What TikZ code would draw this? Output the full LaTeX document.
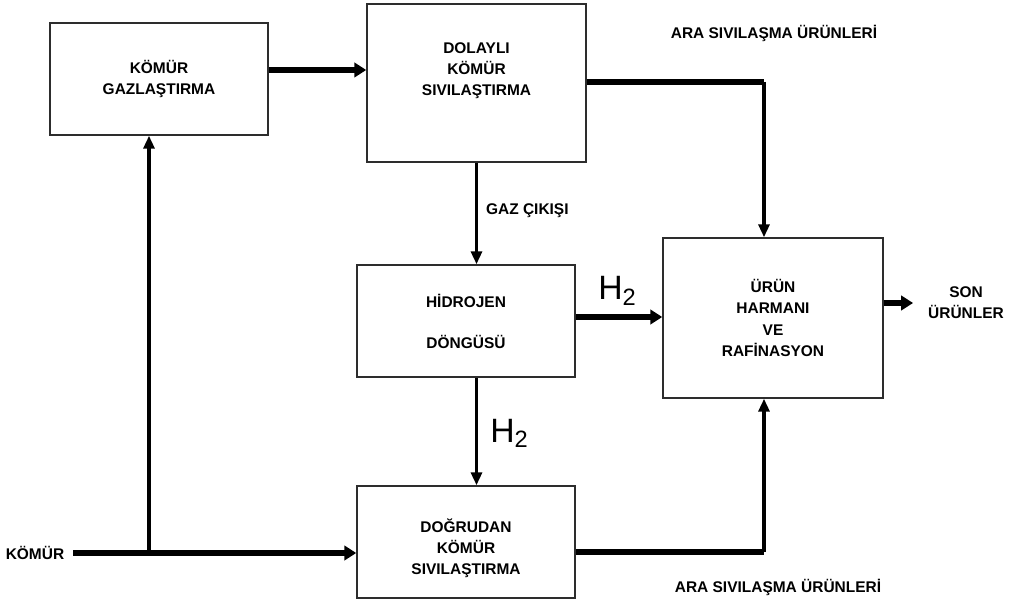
\documentclass[tikz,border=0pt]{standalone}
\usepackage{fontspec}
\setmainfont{Liberation Sans}
\usetikzlibrary{positioning,arrows.meta}
\definecolor{boxcol}{RGB}{45,45,45}

\begin{document}
\begin{tikzpicture}[x=0.025cm, y=-0.025cm,
  nd/.style={rectangle, draw=boxcol, line width=1pt, minimum width=5.45cm, minimum height=2.8cm,
             font=\fontsize{11}{15}\selectfont\bfseries, align=center, inner sep=0pt},
  lbl/.style={font=\fontsize{11}{15}\selectfont\bfseries, align=center, inner sep=2pt},
  hlbl/.style={font=\fontsize{24}{24}\selectfont, anchor=base west, inner sep=0pt},
  ar/.style={-{Triangle[length=0.3cm, width=0.36cm]}, line width=0.15cm},
  ln/.style={line width=0.15cm},
  tar/.style={-{Triangle[length=0.32cm, width=0.27cm]}, line width=0.09cm}
]
\useasboundingbox (0,0) rectangle (1012,603);

\node[nd] (gaz) at (159,79) {KÖMÜR\\GAZLAŞTIRMA};
\node[nd, minimum width=5.475cm, minimum height=3.95cm] (dolayli) at (476.5,83)
  {DOLAYLI\\KÖMÜR\\SIVILAŞTIRMA\\[5pt]\mbox{}};
\node[nd] (hidrojen) at (466,321) {HİDROJEN\\[0.5cm]DÖNGÜSÜ};
\node[nd] (dogrudan) at (466,542) {\mbox{}\\[3.6pt]DOĞRUDAN\\KÖMÜR\\SIVILAŞTIRMA};
\node[nd, minimum width=5.5cm, minimum height=4cm] (raf) at (773,318)
  {ÜRÜN\\HARMANI\\VE\\RAFİNASYON};

\node[lbl] (komur) at (35,553) {KÖMÜR};
\node[lbl] (son) at (966,303) {SON\\ÜRÜNLER};
\node[lbl] (ara1) at (774,33) {ARA SIVILAŞMA ÜRÜNLERİ};
\node[lbl] (ara2) at (778,587) {ARA SIVILAŞMA ÜRÜNLERİ};
\node[lbl, anchor=west] (gazcik) at (483,211) {GAZ ÇIKIŞI};
\node[hlbl] (hone) at (598,300) {H\textsubscript{2}};
\node[hlbl] (htwo) at (490,442) {H\textsubscript{2}};

\coordinate (jn) at (149,553);
\coordinate (c1) at (764,82);
\coordinate (c2) at (764,552);

% gazlastirma -> dolayli
\draw[ar] (gaz.east |- 0,70) -- (dolayli.west |- 0,70);
% ara urunler ust
\draw[ln] (dolayli.east |- c1) -- (c1);
\draw[tar] (c1) -- (c1 |- raf.north);
% gaz cikisi, hidrojen
\draw[tar] (dolayli.south) -- (dolayli.south |- hidrojen.north);
\draw[tar] (hidrojen.south -| dolayli.south) -- (dogrudan.north -| dolayli.south);
\draw[ar] (hidrojen.east |- 0,317) -- (raf.west |- 0,317);
% ara urunler alt
\draw[ln] (dogrudan.east |- c2) -- (c2);
\draw[tar] (c2) -- (c2 |- raf.south);
% komur girisi
\draw[ar, shorten <=0.15cm] (komur.east) -- (dogrudan.west |- komur.east);
\draw[tar] (jn) -- (jn |- gaz.south);
% son urunler
\draw[ar, shorten >=0.3cm] (raf.east |- son) -- (son.west);

\end{tikzpicture}
\end{document}
